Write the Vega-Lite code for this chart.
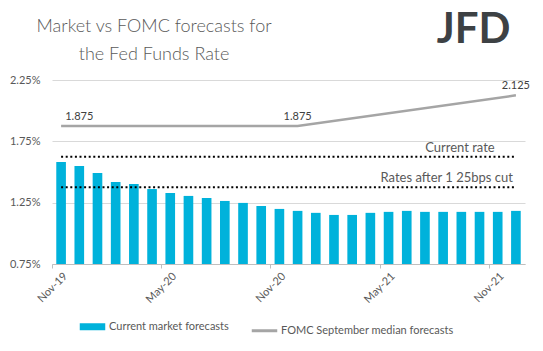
{
  "$schema": "https://vega.github.io/schema/vega-lite/v6.json",
  "width": 473,
  "height": 184,
  "autosize": {"type": "none"},
  "padding": {"left": 52, "top": 80, "right": 18, "bottom": 87},
  "background": "white",
  "config": {
    "font": "Lato",
    "view": {"stroke": null},
    "axis": {"labelColor": "#595959", "labelFontSize": 11, "titleColor": "#595959"}
  },
  "datasets": {
    "market": [
      {"month": "Nov-19", "rate": 1.581},
      {"month": "Dec-19", "rate": 1.548},
      {"month": "Jan-20", "rate": 1.491},
      {"month": "Feb-20", "rate": 1.418},
      {"month": "Mar-20", "rate": 1.402},
      {"month": "Apr-20", "rate": 1.361},
      {"month": "May-20", "rate": 1.329},
      {"month": "Jun-20", "rate": 1.305},
      {"month": "Jul-20", "rate": 1.288},
      {"month": "Aug-20", "rate": 1.264},
      {"month": "Sep-20", "rate": 1.248},
      {"month": "Oct-20", "rate": 1.223},
      {"month": "Nov-20", "rate": 1.199},
      {"month": "Dec-20", "rate": 1.183},
      {"month": "Jan-21", "rate": 1.167},
      {"month": "Feb-21", "rate": 1.15},
      {"month": "Mar-21", "rate": 1.15},
      {"month": "Apr-21", "rate": 1.167},
      {"month": "May-21", "rate": 1.175},
      {"month": "Jun-21", "rate": 1.183},
      {"month": "Jul-21", "rate": 1.175},
      {"month": "Aug-21", "rate": 1.175},
      {"month": "Sep-21", "rate": 1.175},
      {"month": "Oct-21", "rate": 1.175},
      {"month": "Nov-21", "rate": 1.175},
      {"month": "Dec-21", "rate": 1.183}
    ],
    "fomc": [
      {"month": "Nov-19", "rate": 1.875, "label": ""},
      {"month": "Dec-19", "rate": 1.875, "label": "1.875"},
      {"month": "Dec-20", "rate": 1.875, "label": "1.875"},
      {"month": "Dec-21", "rate": 2.125, "label": "2.125"}
    ],
    "levels": [
      {"level": "Current rate", "month": "Nov-19", "rate": 1.625},
      {"level": "Current rate", "month": "Dec-21", "rate": 1.625},
      {"level": "Rates after 1 25bps cut", "month": "Nov-19", "rate": 1.375},
      {"level": "Rates after 1 25bps cut", "month": "Dec-21", "rate": 1.375}
    ],
    "levelLabels": [
      {"level": "Current rate", "month": "Nov-21", "rate": 1.625},
      {"level": "Rates after 1 25bps cut", "month": "Dec-21", "rate": 1.375}
    ],
    "heading": [
      {"heading": "Market vs FOMC forecasts for", "line": 1},
      {"heading": "the Fed Funds Rate", "line": 2}
    ],
    "brand": [
      {"brand": "JFD"}
    ]
  },
  "layer": [
    {
      "data": {"name": "market"},
      "mark": {"type": "bar", "clip": true},
      "encoding": {
        "x": {
          "field": "month",
          "type": "ordinal",
          "sort": null,
          "scale": {
            "domain": ["Nov-19", "Dec-19", "Jan-20", "Feb-20", "Mar-20", "Apr-20", "May-20", "Jun-20", "Jul-20", "Aug-20", "Sep-20", "Oct-20", "Nov-20", "Dec-20", "Jan-21", "Feb-21", "Mar-21", "Apr-21", "May-21", "Jun-21", "Jul-21", "Aug-21", "Sep-21", "Oct-21", "Nov-21", "Dec-21"],
            "paddingInner": 0.47,
            "paddingOuter": 0.235
          },
          "axis": {
            "title": null,
            "values": ["Nov-19", "May-20", "Nov-20", "May-21", "Nov-21"],
            "labelAngle": -45,
            "tickOffset": -9,
            "labelOffset": 9,
            "tickSize": 4,
            "tickColor": "#bfbfbf",
            "domainColor": "#bfbfbf",
            "labelPadding": 2,
            "grid": false
          }
        },
        "y": {
          "field": "rate",
          "type": "quantitative",
          "scale": {"domain": [0.75, 2.25], "zero": false, "nice": false},
          "axis": {
            "title": null,
            "values": [0.75, 1.25, 1.75, 2.25],
            "labelExpr": "format(datum.value, '.2f') + '%'",
            "domain": false,
            "ticks": false,
            "gridColor": "#d9d9d9",
            "labelPadding": 12
          }
        },
        "y2": {"datum": 0.75},
        "color": {
          "datum": "Current market forecasts",
          "type": "nominal",
          "scale": {
            "domain": ["Current market forecasts", "FOMC September median forecasts"],
            "range": ["#00B2DB", "#A5A5A5"]
          },
          "legend": {
            "title": null,
            "orient": "none",
            "legendX": 35,
            "legendY": 241,
            "direction": "horizontal",
            "symbolType": "stroke",
            "symbolSize": 650,
            "labelFontSize": 11,
            "labelColor": "#595959",
            "labelOffset": 11,
            "labelLimit": 300,
            "columnPadding": 16,
            "encode": {
              "symbols": {
                "update": {
                  "stroke": {"scale": "color", "field": "value"},
                  "strokeWidth": {"signal": "datum.value === 'Current market forecasts' ? 7 : 3"},
                  "strokeCap": {"value": "butt"}
                }
              }
            }
          }
        }
      }
    },
    {
      "data": {"name": "levels"},
      "mark": {"type": "line", "color": "#000000", "strokeWidth": 2, "strokeDash": [2, 2.6]},
      "encoding": {
        "x": {"field": "month", "type": "ordinal", "sort": null},
        "y": {"field": "rate", "type": "quantitative"},
        "detail": {"field": "level"}
      }
    },
    {
      "data": {"name": "levelLabels"},
      "mark": {"type": "text", "align": "right", "baseline": "middle", "dx": -3, "dy": -9, "fontSize": 13, "color": "#595959"},
      "encoding": {
        "x": {"field": "month", "type": "ordinal", "sort": null},
        "y": {"field": "rate", "type": "quantitative"},
        "text": {"field": "level"}
      }
    },
    {
      "data": {"name": "fomc"},
      "mark": {"type": "line", "strokeWidth": 2.5},
      "encoding": {
        "x": {"field": "month", "type": "ordinal", "sort": null},
        "y": {"field": "rate", "type": "quantitative"},
        "color": {"datum": "FOMC September median forecasts", "type": "nominal"}
      }
    },
    {
      "data": {"name": "fomc"},
      "mark": {"type": "text", "baseline": "bottom", "dy": -4, "fontSize": 11, "color": "#404040"},
      "encoding": {
        "x": {"field": "month", "type": "ordinal", "sort": null},
        "y": {"field": "rate", "type": "quantitative"},
        "text": {"field": "label"}
      }
    },
    {
      "data": {"name": "heading"},
      "mark": {"type": "text", "baseline": "alphabetic", "fontSize": 18, "fontWeight": 300, "color": "#595959", "dx": 2},
      "encoding": {
        "x": {"datum": "Apr-20", "type": "ordinal"},
        "y": {"datum": 2.64, "type": "quantitative"},
        "yOffset": {"field": "line", "type": "quantitative", "scale": {"domain": [1, 2], "range": [0, 28]}},
        "text": {"field": "heading"}
      }
    },
    {
      "data": {"name": "brand"},
      "mark": {"type": "text", "baseline": "alphabetic", "fontSize": 42, "fontWeight": "bold", "color": "#3d4144", "dx": -6},
      "encoding": {
        "x": {"datum": "Oct-21", "type": "ordinal"},
        "y": {"datum": 2.55, "type": "quantitative"},
        "text": {"field": "brand"}
      }
    }
  ]
}
